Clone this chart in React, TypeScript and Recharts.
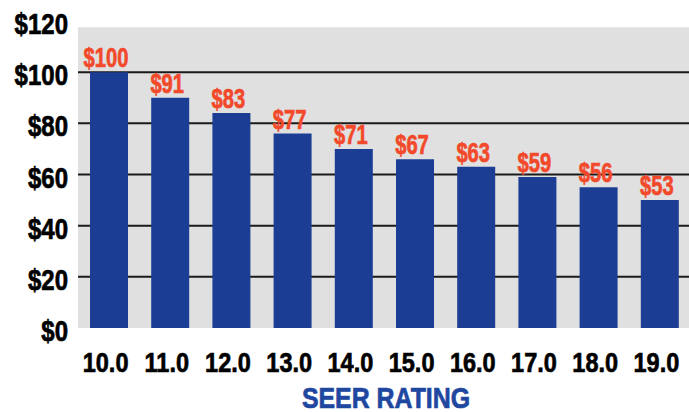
import React from "react";
import {
  BarChart,
  Bar,
  XAxis,
  YAxis,
  CartesianGrid,
  ReferenceArea,
  LabelList,
} from "recharts";

const seerRatings = ["10.0", "11.0", "12.0", "13.0", "14.0", "15.0", "16.0", "17.0", "18.0", "19.0"];
const costs = [100, 90, 84, 76, 70, 66, 63, 59, 55, 50];
const costLabels = ["$100", "$91", "$83", "$77", "$71", "$67", "$63", "$59", "$56", "$53"];
const yTicks = [0, 20, 40, 60, 80, 100, 120];
const gridValues = [20, 40, 60, 80, 100];

const data = seerRatings.map((seer, i) => ({
  seer,
  cost: costs[i],
  label: costLabels[i],
}));

const font = "'Liberation Sans', Arial, sans-serif";

// no condensed face installed, so squeeze a bold sans horizontally
// and give it a thin outline so it reads as heavy as the original
function Squeezed({ x, y, sx, anchor = "middle", size, fill, children }: any) {
  return (
    <text
      transform={`translate(${x},${y}) scale(${sx},1)`}
      textAnchor={anchor}
      fontFamily={font}
      fontWeight="bold"
      fontSize={size}
      fill={fill}
      stroke={fill}
      strokeWidth={0.7}
    >
      {children}
    </text>
  );
}

function YTick({ x, y, payload }: any) {
  return (
    <Squeezed x={x} y={y + 13} sx={0.8} anchor="end" size={30} fill="#000">
      ${payload.value}
    </Squeezed>
  );
}

function XTick({ x, y, payload }: any) {
  return (
    <Squeezed x={x - 3} y={y + 36} sx={0.84} size={28} fill="#000">
      {payload.value}
    </Squeezed>
  );
}

function AxisTitle({ viewBox }: any) {
  return (
    <Squeezed
      x={viewBox.x + viewBox.width / 2 + 2}
      y={viewBox.y + 80}
      sx={0.83}
      size={30}
      fill="#1f47a0"
    >
      SEER RATING
    </Squeezed>
  );
}

function CostLabel({ x, y, width, value }: any) {
  return (
    <Squeezed x={x + width / 2 - 3} y={y - 5} sx={0.72} size={28} fill="#f2492a">
      {value}
    </Squeezed>
  );
}

export default function App() {
  return (
    <div style={{ position: "absolute", left: 0, top: 0, background: "#fff" }}>
      <BarChart
        width={689}
        height={412}
        data={data}
        margin={{ top: 21, right: -1, left: 0, bottom: 0 }}
        barSize={38}
      >
        <ReferenceArea
          y1={0}
          y2={117.6}
          fill="#e0e0e0"
          fillOpacity={1}
          stroke="none"
          zIndex={-200}
        />
        <CartesianGrid
          vertical={false}
          horizontalValues={gridValues}
          stroke="#1a1a1a"
          strokeWidth={2}
        />
        <XAxis
          dataKey="seer"
          height={84}
          axisLine={false}
          tickLine={false}
          interval={0}
          tick={<XTick />}
          label={<AxisTitle />}
        />
        <YAxis
          width={78}
          domain={[0, 120]}
          ticks={yTicks}
          axisLine={false}
          tickLine={false}
          tickSize={0}
          tickMargin={10}
          tick={<YTick />}
        />
        <Bar dataKey="cost" fill="#1b3e94" isAnimationActive={false}>
          <LabelList dataKey="label" content={<CostLabel />} />
        </Bar>
      </BarChart>
    </div>
  );
}
